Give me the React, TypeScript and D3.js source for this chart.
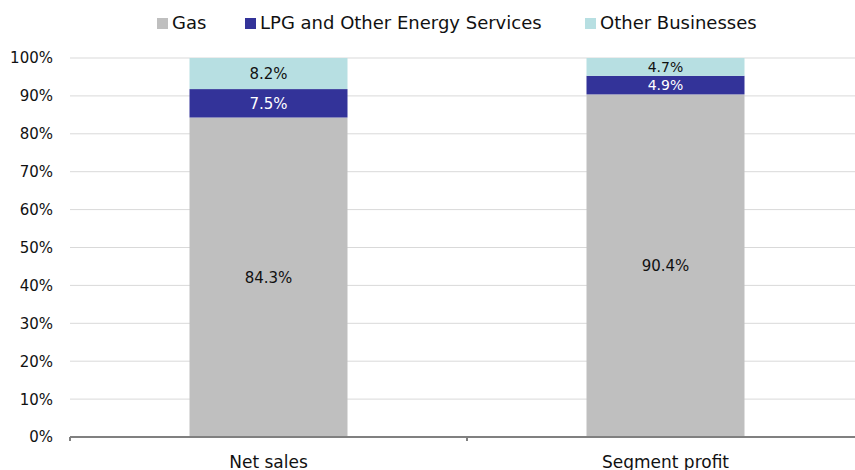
import React from "react";
import * as d3 from "d3";

const categories = ["Net sales", "Segment profit"];
const seriesNames = ["Gas", "LPG and Other Energy Services", "Other Businesses"];
const gasValues = [84.3, 90.4];
const lpgValues = [7.5, 4.9];
const otherValues = [8.2, 4.7];
const yTicks = [0, 10, 20, 30, 40, 50, 60, 70, 80, 90, 100];
const colors = ["#bfbfbf", "#333399", "#b7dfe2"];
const labelColors = ["#111", "#fff", "#111"];

const W = 855, H = 470;
const left = 70, right = 864, top = 58, bottom = 437;
const font = "'DejaVu Sans', sans-serif";

export default function App() {
  const x = d3.scaleBand<string>().domain(categories).range([left, right]).paddingInner(0).paddingOuter(0);
  const y = d3.scaleLinear().domain([0, 100]).range([bottom, top]);
  const bw = 158;
  const series = [gasValues, lpgValues, otherValues];
  const data = categories.map((c, i) => {
    const obj: any = { cat: c };
    seriesNames.forEach((s, j) => (obj[s] = series[j][i]));
    return obj;
  });
  const stacked = d3.stack<any>().keys(seriesNames)(data);
  const legendX = [157, 245, 585];
  return (
    <svg width={W} height={H} style={{ position: "absolute", left: 0, top: 0, display: "block" }}>
      <rect width={W} height={H} fill="#fff" />
      {yTicks.map((t) => (
        <g key={t}>
          {t > 0 && <line x1={left} x2={right} y1={y(t)} y2={y(t)} stroke="#d9d9d9" strokeWidth={1} />}
          <text x={53} y={y(t)} dy="0.36em" textAnchor="end" fontSize={15} fontFamily={font} fill="#111">{t}%</text>
        </g>
      ))}
      {stacked.map((layer, j) => (
        <g key={layer.key}>
          {layer.map((d, i) => {
            const cx = x(categories[i])! + x.bandwidth() / 2;
            const h = y(d[0]) - y(d[1]);
            return (
              <g key={i}>
                <rect x={cx - bw / 2} width={bw} y={y(d[1])} height={h} fill={colors[j]} />
                <text x={cx} y={(y(d[0]) + y(d[1])) / 2} dy="0.36em" textAnchor="middle" fontSize={h < 20 ? 14 : 15} fontFamily={font} fill={labelColors[j]}>
                  {(d[1] - d[0]).toFixed(1)}%
                </text>
              </g>
            );
          })}
        </g>
      ))}
      <line x1={left} x2={right} y1={bottom} y2={bottom} stroke="#808080" strokeWidth={2} />
      {[0, 1, 2].map((i) => (
        <line key={i} x1={left + i * x.bandwidth()} x2={left + i * x.bandwidth()} y1={bottom} y2={bottom + 4} stroke="#808080" strokeWidth={2} />
      ))}
      {categories.map((c) => (
        <text key={c} x={x(c)! + x.bandwidth() / 2} y={468} textAnchor="middle" fontSize={17} fontFamily={font} fill="#111">{c}</text>
      ))}
      {seriesNames.map((s, i) => (
        <g key={s}>
          <rect x={legendX[i]} y={18} width={11} height={11} fill={colors[i]} />
          <text x={legendX[i] + 15} y={29} fontSize={18} fontFamily={font} fill="#111">{s}</text>
        </g>
      ))}
    </svg>
  );
}
